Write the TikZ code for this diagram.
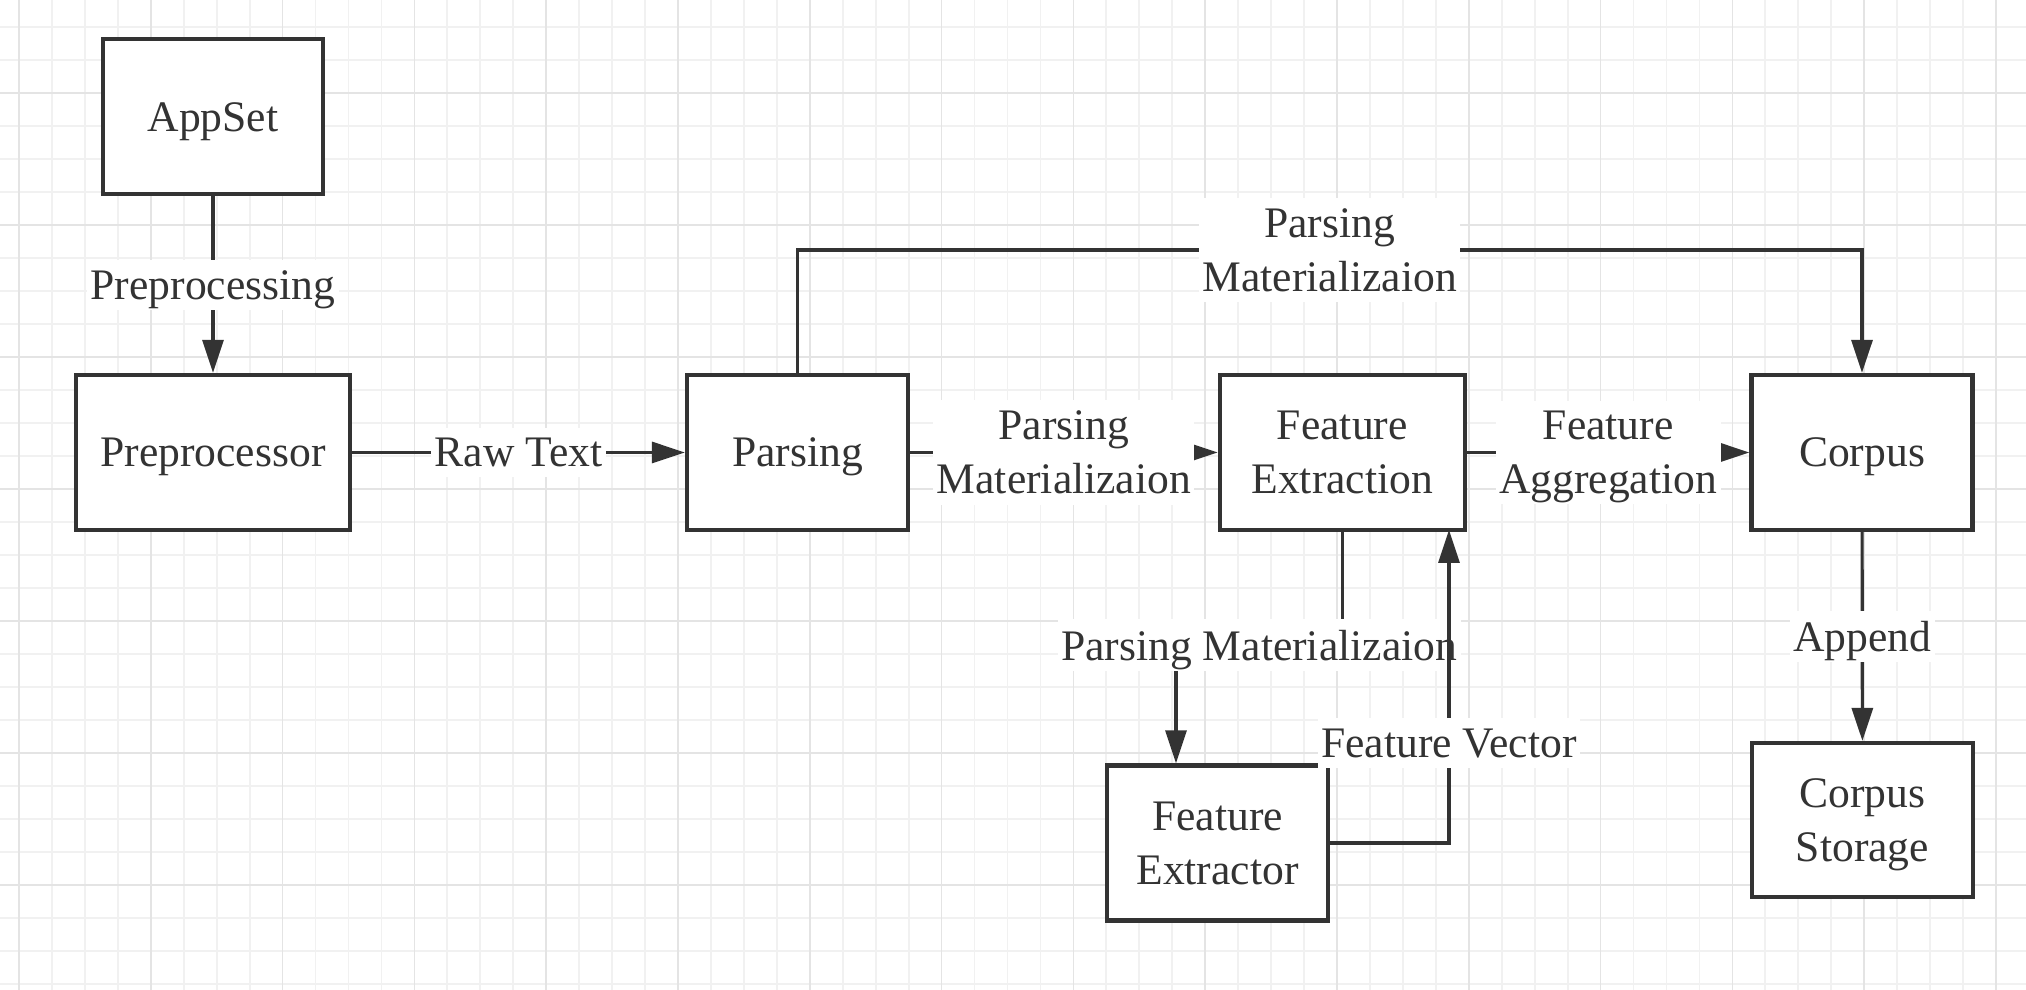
\documentclass[tikz,border=0pt]{standalone}
\usepackage{fontspec}
\setmainfont{Liberation Serif}
\usetikzlibrary{arrows.meta}
\definecolor{ink}{HTML}{333333}
\definecolor{gridminor}{HTML}{F1F1F1}
\definecolor{gridmajor}{HTML}{E4E4E4}

\begin{document}
\begin{tikzpicture}[x=0.1mm, y=0.1mm,
    every node/.style={font=\fontsize{12.4}{15.4}\selectfont, text=ink, text depth=0pt},
    block/.style={draw=ink, line width=1.2pt, fill=white, minimum width=22.1mm,
        minimum height=15.5mm, align=center, inner sep=0pt},
    flow/.style={draw=ink, line width=0.9pt, -{Triangle[length=3.3mm, width=2.1mm]}},
    tag/.style={fill=white, inner xsep=1pt, inner ysep=3pt, align=center}]
    % paper with grid
    \useasboundingbox (0,0) rectangle (2026,-990);
    \fill[white] (0,0) rectangle (2026,-990);
    \foreach \k in {0,...,60}
        \draw[gridminor, line width=0.5pt] ({19+\k*32.95},0) -- ({19+\k*32.95},-990);
    \foreach \k in {0,...,29}
        \draw[gridminor, line width=0.5pt] (0,{-26.7-\k*33}) -- (2026,{-26.7-\k*33});
    \foreach \k in {0,...,15}
        \draw[gridmajor, line width=0.5pt] ({19+\k*131.8},0) -- ({19+\k*131.8},-990);
    \foreach \k in {0,...,6}
        \draw[gridmajor, line width=0.5pt] (0,{-92.7-\k*132}) -- (2026,{-92.7-\k*132});

    % boxes
    \node[block, minimum width=22mm] (appset) at (213,-116.9) {AppSet};
    \node[block, minimum width=27.4mm] (preproc) at (213,-452.5) {Preprocessor};
    \node[block] (parsing) at (797.5,-452.5) {Parsing};
    \node[block, minimum width=24.5mm] (featext) at (1342.3,-452.5) {Feature\\Extraction};
    \node[block] (corpus) at (1862,-452.5) {Corpus};
    \node[block] (extractor) at (1217.5,-843) {Feature\\Extractor};
    \node[block, minimum height=15.4mm] (storage) at (1862.5,-820) {Corpus\\Storage};

    % bends
    \coordinate (jumpl) at (797.5,-250);
    \coordinate (jumpr) at (1862,-250);
    \coordinate (splitx) at (1176,-645);
    \coordinate (vecx) at (1449,-530);

    % connectors
    \draw[flow] (appset) -- node[tag]{Preprocessing} (preproc);
    \draw[flow] (preproc) -- node[tag]{Raw Text} (parsing);
    \draw[flow] (parsing) -- node[tag]{Parsing\\Materializaion} (featext);
    \draw[flow] (featext) -- node[tag]{Feature\\Aggregation} (corpus);
    \draw[flow] (corpus) -- node[tag]{Append} (storage);
    \draw[flow] (parsing.north) -- (jumpl) -- node[tag]{Parsing\\Materializaion} (jumpr) -- (corpus.north);
    \draw[flow] (featext.south) |- node[tag, pos=0.75]{Parsing Materializaion} (splitx)
        -- (splitx |- extractor.north);
    \draw[flow] (extractor.east) -| node[tag, pos=0.66]{Feature Vector} (vecx);
\end{tikzpicture}
\end{document}
